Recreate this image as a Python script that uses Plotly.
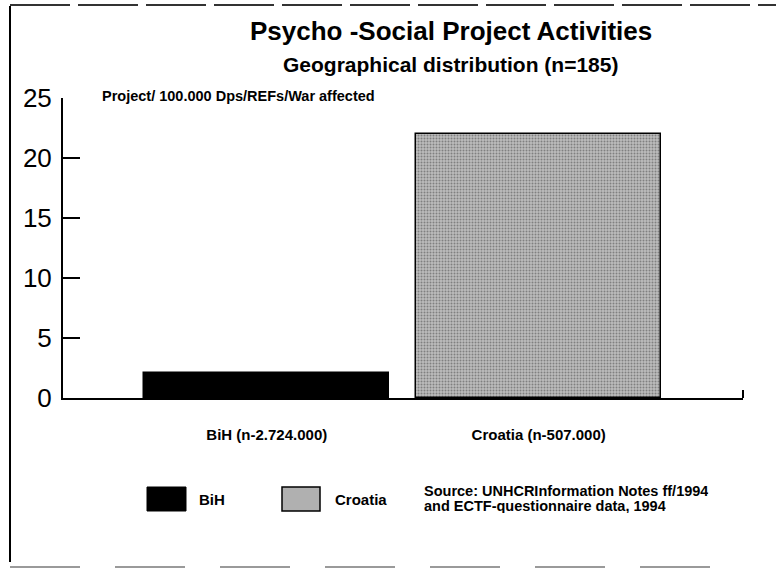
import plotly.graph_objects as go

# ---- data ----
categories = ["BiH", "Croatia"]
category_labels = ["BiH (n-2.724.000)", "Croatia (n-507.000)"]
values = [2.1, 22.0]
y_ticks = [0, 5, 10, 15, 20, 25]
title_text = "Psycho -Social Project Activities"
subtitle_text = "Geographical distribution (n=185)"
y_label = "Project/ 100.000 Dps/REFs/War affected"
source_lines = ["Source: UNHCRInformation Notes ff/1994", "and ECTF-questionnaire data, 1994"]

W, H = 776, 573
L, R, T, B = 63, 33, 98, 175
PW, PH = W - L - R, H - T - B
FONT = "Liberation Sans, Arial, Helvetica, sans-serif"


def px(x):
    return (x - L) / PW


def py(y):
    return (H - B - y) / PH


bar_colors = ["#000000", "#bcbcbc"]
fig = go.Figure()
fig.add_trace(go.Bar(
    x=[0, 1], y=values, width=0.9,
    marker=dict(
        color=bar_colors,
        line=dict(color="#000000", width=1.5),
        pattern=dict(shape=["", "."], fgcolor="#555555",
                     size=3, solidity=0.35, fillmode="overlay"),
    ),
    showlegend=False, hoverinfo="skip",
))

fig.update_layout(
    width=W, height=H,
    margin=dict(l=L, r=R, t=T, b=B),
    paper_bgcolor="white", plot_bgcolor="white",
    font=dict(family=FONT, color="black"),
    bargap=0,
    xaxis=dict(
        range=[-0.7495, 1.7514], tickvals=[0, 1], ticktext=category_labels,
        showline=True, linecolor="black", linewidth=2, ticks="",
        showgrid=False, zeroline=False, fixedrange=True,
        tickfont=dict(size=15, weight="bold"), ticklabelstandoff=22,
    ),
    yaxis=dict(
        range=[0, 25], tickvals=y_ticks, ticktext=[str(v) for v in y_ticks],
        showline=True, linecolor="black", linewidth=2,
        ticks="inside", ticklen=17, tickwidth=2, tickcolor="black",
        showgrid=False, zeroline=False, fixedrange=True,
        tickfont=dict(size=26), ticklabelstandoff=4,
    ),
)

ann = []
ann.append(dict(text=f"<b>{title_text}</b>", x=px(451), y=py(31), xref="paper", yref="paper",
                xanchor="center", yanchor="middle", showarrow=False, font=dict(size=26)))
ann.append(dict(text=f"<b>{subtitle_text}</b>", x=px(450), y=py(64), xref="paper", yref="paper",
                xanchor="center", yanchor="middle", showarrow=False, font=dict(size=21)))
ann.append(dict(text=f"<b>{y_label}</b>", x=px(100), y=py(96), xref="paper", yref="paper",
                xanchor="left", yanchor="middle", showarrow=False, font=dict(size=14.5)))
# legend labels
ann.append(dict(text=f"<b>{categories[0]}</b>", x=px(197), y=py(499), xref="paper", yref="paper",
                xanchor="left", yanchor="middle", showarrow=False, font=dict(size=15)))
ann.append(dict(text=f"<b>{categories[1]}</b>", x=px(333), y=py(499), xref="paper", yref="paper",
                xanchor="left", yanchor="middle", showarrow=False, font=dict(size=15)))
for i, line in enumerate(source_lines):
    ann.append(dict(text=f"<b>{line}</b>", x=px(422), y=py(490 + 16 * i), xref="paper", yref="paper",
                    xanchor="left", yanchor="middle", showarrow=False, font=dict(size=14.5),
                    height=15, valign="middle"))

shapes = []
# legend swatches
shapes.append(dict(type="rect", xref="paper", yref="paper", x0=px(147), x1=px(186), y0=py(487), y1=py(511),
                   fillcolor=bar_colors[0], line=dict(color="black", width=1)))
shapes.append(dict(type="rect", xref="paper", yref="paper", x0=px(282), x1=px(320), y0=py(487), y1=py(511),
                   fillcolor="#b0b0b0", line=dict(color="black", width=1.5)))
# right end tick of x axis
shapes.append(dict(type="line", xref="paper", yref="paper", x0=1, x1=1, y0=0, y1=py(390),
                   line=dict(color="black", width=2)))
# scanned page frame
shapes.append(dict(type="line", xref="paper", yref="paper", x0=px(10), x1=px(10), y0=py(6), y1=py(562),
                   line=dict(color="black", width=2)))
shapes.append(dict(type="line", xref="paper", yref="paper", x0=px(10), x1=px(776), y0=py(5), y1=py(5),
                   line=dict(color="#333333", width=2, dash="60px,8px")))
shapes.append(dict(type="line", xref="paper", yref="paper", x0=px(10), x1=px(740), y0=py(567), y1=py(567),
                   line=dict(color="#9a9a9a", width=2, dash="70px,35px")))

fig.update_layout(annotations=ann, shapes=shapes)
fig.write_html("out.html", config={"displayModeBar": False},
               post_script="document.body.style.margin='0px';")
